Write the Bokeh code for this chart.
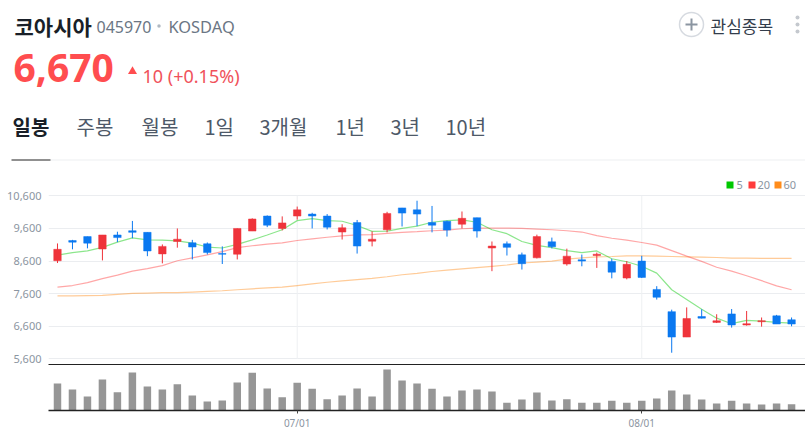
from bokeh.plotting import figure
from bokeh.layouts import column
from bokeh.models import FixedTicker, NumeralTickFormatter, Range1d
from bokeh.core.properties import value
from bokeh.embed import file_html
from bokeh.resources import INLINE

opens  = [8610,9230,9350,8970,9400,9530,9480,8820,9200,9160,9130,8830,8810,9520,9980,9600,9980,10040,9980,9490,9780,9210,9560,10230,10170,9780,9820,9730,9930,9000,9130,8790,8700,9190,8510,8640,8770,8590,8080,8600,7730,7050,6270,6900,6720,6980,6640,6740,6920,6800]
closes = [8960,9180,9150,9400,9320,9480,8910,9050,9270,9030,8860,8810,9600,9890,9700,9770,10170,9980,9640,9620,9060,9270,10060,10070,10040,9700,9550,9910,9520,9060,9020,8520,9350,9040,8750,8600,8810,8260,8500,8100,7490,6270,6840,6850,6770,6640,6680,6770,6670,6670]
highs  = [9140,9250,9350,9400,9500,9830,9480,9110,9600,9250,9170,9050,9600,9910,10000,9970,10270,10080,10040,9730,9860,9510,10110,10230,10450,10290,9840,10120,9930,9200,9200,8860,9410,9320,8980,8800,8860,8670,8600,8760,7830,7110,7180,7120,6970,7130,7070,6870,6950,6870]
lows   = [8540,8960,8990,8620,9180,9300,8750,8530,9010,8650,8800,8510,8650,9520,9640,9540,9870,9600,9570,9260,8830,9050,9480,9660,9670,9480,9350,9600,9320,8290,8770,8340,8680,8990,8460,8440,8390,8070,8040,8080,7420,5790,6270,6840,6700,6560,6620,6590,6670,6600]
ma5    = [8780,8860,8910,9020,9180,9310,9250,9240,9220,9150,9030,9000,9110,9250,9400,9560,9840,9900,9840,9820,9690,9510,9520,9600,9670,9790,9840,9860,9790,9560,9440,9200,9080,9010,8920,8860,8910,8670,8580,8440,8230,7720,7420,7120,6850,6680,6780,6760,6720,6700]
ma20   = [7800,7850,7940,8060,8170,8290,8370,8460,8610,8700,8790,8890,9010,9070,9120,9160,9230,9280,9330,9370,9400,9410,9450,9480,9500,9530,9550,9590,9610,9610,9610,9600,9580,9560,9530,9490,9380,9300,9240,9170,9090,8920,8750,8590,8410,8290,8150,8000,7840,7720]
ma60   = [7530,7530,7540,7550,7580,7610,7620,7630,7630,7650,7670,7690,7720,7750,7780,7800,7850,7900,7950,7990,8030,8070,8120,8180,8220,8280,8320,8360,8400,8440,8480,8540,8570,8600,8660,8700,8730,8740,8760,8760,8750,8740,8730,8720,8710,8690,8690,8680,8680,8680]
volumes = [81,63,42,93,55,114,72,63,79,45,27,30,84,113,66,40,83,65,34,45,66,42,123,90,81,65,42,60,63,57,23,33,54,30,34,23,23,29,23,29,36,60,48,33,21,29,21,18,21,19]
price_ticks = [5600,6600,7600,8600,9600,10600]
date_ticks = {16: "07/01", 39: "08/01"}
tabs = ["일봉","주봉","월봉","1일","3개월","1년","3년","10년"]
ma_names = ["5", "20", "60"]
ma_colors = ["#00c800", "#ff3b3b", "#ff8c1a"]

RED, BLUE = "#ef333a", "#0a78f0"
KR = "Noto Sans CJK KR"
LAT = "Noto Sans"
W, H0, H1, H2 = 805, 186, 182, 64
xs = list(range(len(opens)))
xr = Range1d(-0.6, 49.93)

h = figure(width=W, height=H0 + 6, output_backend="svg", toolbar_location=None,
           x_range=Range1d(0, W), y_range=Range1d(H0 + 6, 0), min_border=0, outline_line_color=None,
           x_axis_location=None, y_axis_location=None, frame_align=False, margin=(0, 0, -6, 0))
h.grid.visible = False

def text(s, px, py, size, color, font=KR, style="normal"):
    h.text(x=[px], y=[py], text=[s], text_font=value(font), text_font_size=f"{size}px", text_color=color,
           text_font_style=style, text_align="left", text_baseline="middle")

def box(x0, x1, y0, y1, fill):
    h.quad(left=[x0], right=[x1], top=[y0], bottom=[y1], fill_color=fill, line_color=None)

text("코아시아", 14, 25, 21, "#191f28", style="bold")
text("045970", 96, 26, 16, "#6b7684", LAT)
text("KOSDAQ", 168, 26, 16.4, "#6b7684", LAT)
h.scatter(x=[158.5], y=[25.5], size=3.5, marker="circle", fill_color="#b0b8c1", line_color=None)
text("6,670", 13, 67, 39, "#ff4d4f", LAT, "bold")
h.scatter(x=[132], y=[71], size=9, marker="triangle", fill_color="#ff4d4f", line_color=None)
text("10 (+0.15%)", 142, 75, 18, "#f0525b", LAT)

tab_x = [12, 76, 141, 204, 259, 335, 390, 445]
for i, (t, x) in enumerate(zip(tabs, tab_x)):
    text(t, x, 126, 20, "#191f28" if i == 0 else "#4e5968", style="bold" if i == 0 else "normal")
box(50, W, 159, 160, "#eeeff1")
box(11, 50, 159, 160, "#222222")

h.scatter(x=[691], y=[24], size=24, marker="circle", fill_color=None, line_color="#d6dae0", line_width=1.5)
box(690, 692, 18, 30, "#8b95a1")
box(685, 697, 23, 25, "#8b95a1")
text("관심종목", 710, 25, 17, "#333d4b")
h.scatter(x=[797, 797, 797], y=[17, 24, 31], size=4, marker="circle", fill_color="#c4c8ce", line_color=None)

for name, col, sq, tx in zip(ma_names, ma_colors, [726, 748, 774], [736, 757, 783]):
    box(sq, sq + 7, 181, 188, col)
    text(name, tx, 184, 11, "#8b95a1", LAT)

p = figure(width=W, height=H1, output_backend="svg", toolbar_location=None, x_range=xr,
           y_range=Range1d(5429, 10886), min_border_top=0, min_border_left=48,
           min_border_right=0, min_border_bottom=4, outline_line_color=None,
           background_fill_color=None, border_fill_color=None)
p.frame_height = 178
p.yaxis.ticker = FixedTicker(ticks=price_ticks)
p.yaxis.formatter = NumeralTickFormatter(format="0,0")
p.yaxis.axis_line_color = None
p.yaxis.major_tick_line_color = None
p.yaxis.minor_tick_line_color = None
p.yaxis.major_label_text_color = "#8b95a1"
p.yaxis.major_label_text_font = LAT
p.yaxis.major_label_text_font_size = "11px"
p.yaxis.major_label_standoff = 1
p.xaxis.ticker = FixedTicker(ticks=[])
p.xaxis.axis_line_color = "#222222"
p.xaxis.axis_line_width = 1
p.xaxis.major_label_text_font_size = "0px"
p.xaxis.major_tick_line_color = None
p.xaxis.minor_tick_line_color = None
p.xgrid.visible = False
p.ygrid.ticker = FixedTicker(ticks=price_ticks)
p.ygrid.grid_line_color = "#ebedf0"

p.segment(x0=list(date_ticks), x1=list(date_ticks), y0=[price_ticks[0]]*2, y1=[price_ticks[-1]]*2,
          line_color="#eef0f2", line_width=1)

p.line(xs, ma60, line_color=ma_colors[2], line_alpha=0.45, line_width=1.2)
p.line(xs, ma20, line_color=ma_colors[1], line_alpha=0.45, line_width=1.2)
p.line(xs, ma5, line_color=ma_colors[0], line_alpha=0.45, line_width=1.2)

colors = [RED if c >= o else BLUE for o, c in zip(opens, closes)]
p.segment(x0=xs, x1=xs, y0=lows, y1=highs, line_color=colors, line_width=1)
p.vbar(x=xs, width=0.5, bottom=[min(a, b) for a, b in zip(opens, closes)],
       top=[max(a, b) for a, b in zip(opens, closes)], fill_color=colors, line_color=colors, line_width=0.5)

v = figure(width=W, height=H2, output_backend="svg", toolbar_location=None, x_range=xr,
           y_range=Range1d(0, 126), min_border_top=0, min_border_left=48, min_border_right=0,
           min_border_bottom=0, outline_line_color=None)
v.grid.visible = False
v.yaxis.ticker = FixedTicker(ticks=[])
v.yaxis.axis_line_color = None
v.yaxis.major_label_text_font_size = "0px"
v.yaxis.major_tick_line_color = None
v.yaxis.minor_tick_line_color = None
v.xaxis.ticker = FixedTicker(ticks=list(date_ticks))
v.xaxis.major_label_overrides = date_ticks
v.xaxis.axis_line_color = "#222222"
v.xaxis.axis_line_width = 1.5
v.xaxis.major_tick_line_color = "#444444"
v.xaxis.major_tick_in = 0
v.xaxis.major_tick_out = 3
v.xaxis.minor_tick_line_color = None
v.xaxis.major_label_text_color = "#8b95a1"
v.xaxis.major_label_text_font = LAT
v.xaxis.major_label_text_font_size = "10px"
v.xaxis.major_label_standoff = 2
v.vbar(x=xs, width=0.5, top=volumes, bottom=0, fill_color="#969696", line_color=None)

open("out.html", "w").write(file_html(column(h, p, v, spacing=0), INLINE))
